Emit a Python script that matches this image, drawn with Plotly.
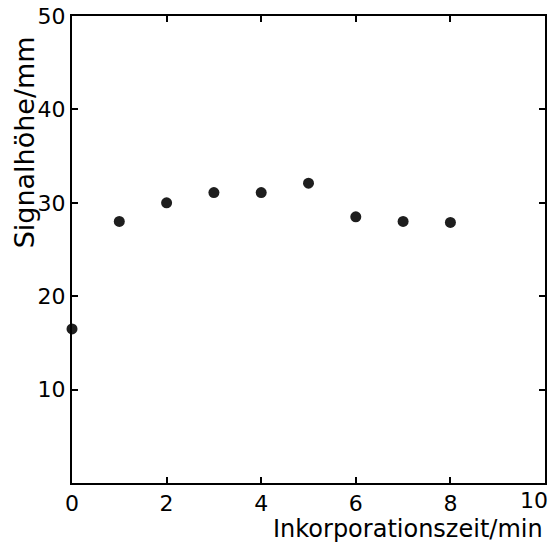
import plotly.graph_objects as go

# Inkorporationszeit (min) vs. Signalhoehe (mm)
zeit = [0, 1, 2, 3, 4, 5, 6, 7, 8]
signal = [16.5, 28.0, 30.0, 31.1, 31.1, 32.1, 28.5, 28.0, 27.9]

x_ticks = [0, 2, 4, 6, 8, 10]
y_ticks = [10, 20, 30, 40, 50]

font_family = "DejaVu Sans, sans-serif"

fig = go.Figure()
fig.add_trace(go.Scatter(
    x=zeit, y=signal,
    mode="markers",
    marker=dict(size=11, color="#1e1e1e", line=dict(width=0)),
    cliponaxis=False,
    showlegend=False,
))

axis_common = dict(
    showgrid=False, zeroline=False, automargin=False,
    showline=True, linecolor="black", linewidth=2,
    mirror="ticks", ticks="inside", ticklen=6, tickwidth=1.5, tickcolor="black",
    tickfont=dict(family=font_family, size=22, color="black"),
    ticklabeloverflow="allow",
)

# last x label is placed by hand so it does not run off the right edge
x_labels = [str(v) for v in x_ticks[:-1]] + [""]

fig.update_xaxes(range=[0, 10], tickvals=x_ticks, ticktext=x_labels, **axis_common)
fig.update_yaxes(range=[0, 50], tickvals=y_ticks, ticktext=[str(v) for v in y_ticks], **axis_common)

fig.update_layout(
    width=551, height=544,
    margin=dict(l=72, r=6, t=16, b=61),
    plot_bgcolor="white", paper_bgcolor="white",
    font=dict(family=font_family, color="black"),
    annotations=[
        dict(text=str(x_ticks[-1]), xref="x", yref="paper", x=x_ticks[-1], y=0,
             xanchor="right", yanchor="top", xshift=5, yshift=-3, showarrow=False,
             font=dict(size=22, family=font_family)),
        dict(text="Inkorporationszeit/min", xref="paper", yref="paper",
             x=1.0, y=-0.064, xanchor="right", yanchor="top", showarrow=False,
             font=dict(size=24, family=font_family)),
        dict(text="Signalhöhe/mm", xref="paper", yref="paper",
             x=-0.101, y=0.73, xanchor="center", yanchor="middle", textangle=-90,
             showarrow=False, font=dict(size=27, family=font_family)),
    ],
)

# drop the default 8px body margin so the figure fills the window
fig.write_html("out.html", config={"displayModeBar": False},
               post_script="document.body.style.margin='0';")
